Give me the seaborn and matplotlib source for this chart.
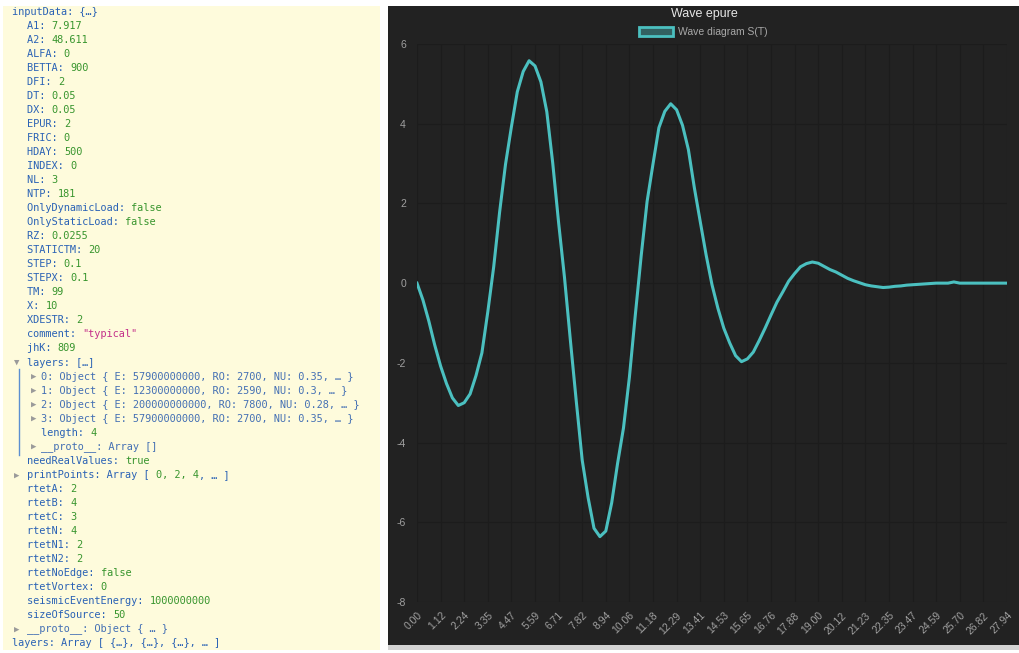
import matplotlib
matplotlib.use("Agg")
import matplotlib.pyplot as plt
from matplotlib.patches import Rectangle, Patch
from matplotlib.lines import Line2D
import numpy as np
import pandas as pd
import seaborn as sns

# wave epure S(T), one value per time step
wave = [0.00, -0.42, -0.95, -1.55, -2.08, -2.52, -2.88, -3.07, -3.00, -2.78,
        -2.32, -1.75, -0.72, 0.41, 1.78, 2.98, 3.92, 4.80, 5.31, 5.58,
        5.45, 5.05, 4.30, 3.02, 1.52, 0.14, -1.44, -2.97, -4.44, -5.38,
        -6.15, -6.36, -6.22, -5.51, -4.52, -3.63, -2.36, -0.80, 0.69, 2.05,
        2.99, 3.90, 4.31, 4.50, 4.35, 3.96, 3.35, 2.40, 1.55, 0.71,
        -0.04, -0.63, -1.13, -1.50, -1.82, -1.97, -1.90, -1.73, -1.44, -1.13,
        -0.80, -0.48, -0.22, 0.05, 0.24, 0.41, 0.49, 0.53, 0.50, 0.42,
        0.34, 0.28, 0.20, 0.12, 0.06, 0.01, -0.04, -0.07, -0.09, -0.11,
        -0.10, -0.08, -0.07, -0.05, -0.04, -0.03, -0.02, -0.01, 0.00, 0.00,
        0.00, 0.03, 0.00, 0.00, 0.00, 0.00, 0.00, 0.00, 0.00, 0.00, 0.00]

# shown time labels (every 4th step)
time_labels = ["0.00", "1.12", "2.24", "3.35", "4.47", "5.59", "6.71", "7.82",
               "8.94", "10.06", "11.18", "12.29", "13.41", "14.53", "15.65",
               "16.76", "17.88", "19.00", "20.12", "21.23", "22.35", "23.47",
               "24.59", "25.70", "26.82", "27.94"]
label_step = 4
y_ticks = [-8, -6, -4, -2, 0, 2, 4, 6]

# console dump on the left: (indent, toggle, [(text, kind), ...])
console_lines = [
    (0, None, [("inputData: {…}", "key")]),
    (1, None, [("A1: ", "key"), ("7.917", "num")]),
    (1, None, [("A2: ", "key"), ("48.611", "num")]),
    (1, None, [("ALFA: ", "key"), ("0", "num")]),
    (1, None, [("BETTA: ", "key"), ("900", "num")]),
    (1, None, [("DFI: ", "key"), ("2", "num")]),
    (1, None, [("DT: ", "key"), ("0.05", "num")]),
    (1, None, [("DX: ", "key"), ("0.05", "num")]),
    (1, None, [("EPUR: ", "key"), ("2", "num")]),
    (1, None, [("FRIC: ", "key"), ("0", "num")]),
    (1, None, [("HDAY: ", "key"), ("500", "num")]),
    (1, None, [("INDEX: ", "key"), ("0", "num")]),
    (1, None, [("NL: ", "key"), ("3", "num")]),
    (1, None, [("NTP: ", "key"), ("181", "num")]),
    (1, None, [("OnlyDynamicLoad: ", "key"), ("false", "num")]),
    (1, None, [("OnlyStaticLoad: ", "key"), ("false", "num")]),
    (1, None, [("RZ: ", "key"), ("0.0255", "num")]),
    (1, None, [("STATICTM: ", "key"), ("20", "num")]),
    (1, None, [("STEP: ", "key"), ("0.1", "num")]),
    (1, None, [("STEPX: ", "key"), ("0.1", "num")]),
    (1, None, [("TM: ", "key"), ("99", "num")]),
    (1, None, [("X: ", "key"), ("10", "num")]),
    (1, None, [("XDESTR: ", "key"), ("2", "num")]),
    (1, None, [("comment: ", "key"), ('"typical"', "str")]),
    (1, None, [("jhK: ", "key"), ("809", "num")]),
    (1, "▼", [("layers: […]", "key")]),
    (2, "▶", [("0: Object { E: 57900000000, RO: 2700, NU: 0.35, … }", "obj")]),
    (2, "▶", [("1: Object { E: 12300000000, RO: 2590, NU: 0.3, … }", "obj")]),
    (2, "▶", [("2: Object { E: 200000000000, RO: 7800, NU: 0.28, … }", "obj")]),
    (2, "▶", [("3: Object { E: 57900000000, RO: 2700, NU: 0.35, … }", "obj")]),
    (2, None, [("length: ", "key"), ("4", "num")]),
    (2, "▶", [("__proto__: Array []", "obj")]),
    (1, None, [("needRealValues: ", "key"), ("true", "num")]),
    (1, "▶", [("printPoints: Array [ ", "key"), ("0, 2, 4", "num"), (", … ]", "key")]),
    (1, None, [("rtetA: ", "key"), ("2", "num")]),
    (1, None, [("rtetB: ", "key"), ("4", "num")]),
    (1, None, [("rtetC: ", "key"), ("3", "num")]),
    (1, None, [("rtetN: ", "key"), ("4", "num")]),
    (1, None, [("rtetN1: ", "key"), ("2", "num")]),
    (1, None, [("rtetN2: ", "key"), ("2", "num")]),
    (1, None, [("rtetNoEdge: ", "key"), ("false", "num")]),
    (1, None, [("rtetVortex: ", "key"), ("0", "num")]),
    (1, None, [("seismicEventEnergy: ", "key"), ("1000000000", "num")]),
    (1, None, [("sizeOfSource: ", "key"), ("50", "num")]),
    (1, "▶", [("__proto__: Object { … }", "obj")]),
    (0, None, [("layers: Array [ {…}, {…}, {…}, … ]", "key")]),
]

W, H = 1019, 653
TEAL = "#4bc0c0"
DARK = "#222222"
kind_colors = {"key": "#2a62b5", "num": "#38952e", "str": "#c4308a", "obj": "#4470b4"}


def fx(px):
    return px / W


def fy(py):
    return 1 - py / H


fig = plt.figure(figsize=(W / 100, H / 100), dpi=100)
fig.patch.set_facecolor("white")

# panels
fig.add_artist(Rectangle((fx(3), fy(650)), fx(380) - fx(3), fy(6) - fy(650),
                         transform=fig.transFigure, facecolor="#fefbdc", edgecolor="none", zorder=0))
fig.add_artist(Rectangle((fx(388), fy(645)), 1 - fx(388), fy(6) - fy(645),
                         transform=fig.transFigure, facecolor=DARK, edgecolor="none", zorder=0))
fig.add_artist(Rectangle((fx(388), fy(650)), 1 - fx(388), fy(645) - fy(650),
                         transform=fig.transFigure, facecolor="#d3d3d3", edgecolor="none", zorder=0))

# console text
char_w = 6.14
indent_x = {0: 12, 1: 27, 2: 41}
toggle_x = {1: 17, 2: 34}
mono = ["DejaVu Sans Mono", "DejaVu Sans"]
for i, (lvl, toggle, segs) in enumerate(console_lines):
    y = 12 + 14.02 * i
    if toggle:
        fig.text(fx(toggle_x[lvl]), fy(y), toggle, fontsize=6.5, color="#9a9a9a",
                 family=mono, ha="center", va="center")
    x = indent_x[lvl]
    for text, kind in segs:
        fig.text(fx(x), fy(y), text, fontsize=7.35, color=kind_colors[kind],
                 family=mono, ha="left", va="center")
        x += len(text) * char_w
fig.add_artist(Line2D([fx(19), fx(19)], [fy(369), fy(455)], transform=fig.transFigure,
                      color="#5b8fd0", lw=1.0))

# chart
ax = fig.add_axes([fx(417), fy(602), fx(1007) - fx(417), fy(44) - fy(602)])
ax.set_facecolor(DARK)
df = pd.DataFrame({"step": range(len(wave)), "S": wave})
sns.lineplot(data=df, x="step", y="S", ax=ax, color=TEAL, lw=2.2, zorder=3)

ax.set_xlim(0, len(wave) - 1)
ax.set_ylim(y_ticks[0], y_ticks[-1])
ax.set_xticks(range(0, len(wave), label_step))
ax.set_xticklabels(time_labels, rotation=45, ha="right", va="top",
                   rotation_mode="anchor", family="Liberation Sans")
ax.set_yticks(y_ticks)
ax.set_yticklabels([str(v) for v in y_ticks], family="Liberation Sans")
ax.tick_params(axis="both", colors="#a0a0a0", labelsize=7.5, length=0)
ax.tick_params(axis="x", pad=6)
ax.tick_params(axis="y", pad=8)
ax.grid(True, color="#1c1c1c", lw=0.8)
ax.set_axisbelow(True)
for s in ax.spines.values():
    s.set_visible(False)
ax.set_xlabel("")
ax.set_ylabel("")

fig.text(fx(704), fy(14), "Wave epure", ha="center", va="center",
         color="#e6e6e6", fontsize=9, family="Liberation Sans")
handle = Patch(facecolor=(75 / 255, 192 / 255, 192 / 255, 0.4), edgecolor=TEAL, lw=2)
leg = ax.legend([handle], ["Wave diagram S(T)"], loc="center",
                bbox_to_anchor=(fx(703), fy(32)), bbox_transform=fig.transFigure,
                frameon=False, handlelength=3.3, handleheight=0.9,
                handletextpad=0.45, prop={"family": "Liberation Sans", "size": 7.5})
for t in leg.get_texts():
    t.set_color("#a8a8a8")

fig.savefig("out.png", dpi=100, facecolor=fig.get_facecolor())
